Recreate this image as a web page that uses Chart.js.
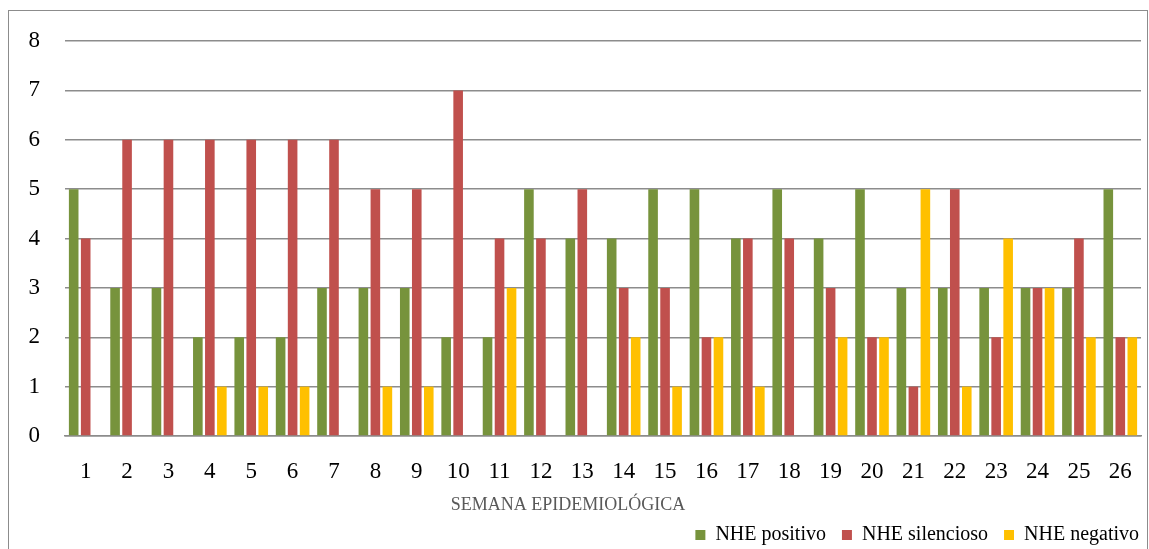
<!DOCTYPE html>
<html>
<head>
<meta charset="utf-8">
<script src="https://cdn.jsdelivr.net/npm/chart.js@4/dist/chart.umd.min.js"></script>
<style>
  html, body { margin: 0; padding: 0; background: #fff; }
  #wrap { position: relative; width: 1149px; height: 549px; overflow: hidden; }
  #frame { position: absolute; left: 8px; top: 10px; width: 1138px; height: 560px; border: 1.5px solid #8c8c8c; }
  canvas { position: absolute; left: 0; top: 0; }
</style>
</head>
<body>
<div id="wrap">
  <div id="frame"></div>
  <canvas id="chart" width="1149" height="549"></canvas>
</div>
<script>
const WEEKS = ['1','2','3','4','5','6','7','8','9','10','11','12','13','14','15','16','17','18','19','20','21','22','23','24','25','26'];
const POSITIVO   = [5,3,3,2,2,2,3,3,3,2,2,5,4,4,5,5,4,5,4,5,3,3,3,3,3,5];
const SILENCIOSO = [4,6,6,6,6,6,6,5,5,7,4,4,5,3,3,2,4,4,3,2,1,5,2,3,4,2];
const NEGATIVO   = [0,0,0,1,1,1,0,1,1,0,3,0,0,2,1,2,1,0,2,2,5,1,4,3,2,2];
const X_TITLE = 'SEMANA EPIDEMIOLÓGICA';

const SERIF = "'Liberation Serif', 'DejaVu Serif', serif";
Chart.defaults.font.family = SERIF;
Chart.defaults.color = '#000';

// axis title sits left of centre in the original, so draw it by hand
const xTitle = {
    id: 'xTitle',
    beforeDraw(chart) {
        // legend hugs the right frame edge in the original
        if (!chart.legend._shifted) {
            chart.legend.left += 14;
            chart.legend.right += 14;
            chart.legend._shifted = true;
        }
    },
    afterDraw(chart) {
        const ctx = chart.ctx;
        ctx.save();
        ctx.font = `18px ${SERIF}`;
        ctx.fillStyle = '#595959';
        ctx.textAlign = 'center';
        ctx.textBaseline = 'middle';
        ctx.fillText(X_TITLE, 568, 505);
        ctx.restore();
    }
};

new Chart(document.getElementById('chart'), {
    type: 'bar',
    data: {
        labels: WEEKS,
        datasets: [
            { label: 'NHE positivo', data: POSITIVO, backgroundColor: '#77933C' },
            { label: 'NHE silencioso', data: SILENCIOSO, backgroundColor: '#C0504D' },
            { label: 'NHE negativo', data: NEGATIVO, backgroundColor: '#FFC000' },
        ]
    },
    options: {
        responsive: false,
        animation: false,
        categoryPercentage: 0.87,
        barPercentage: 0.8,
        layout: { padding: { top: 41, right: 8, left: 0, bottom: -6 } },
        scales: {
            x: {
                grid: { display: false },
                border: { color: '#8c8c8c', width: 1.5 },
                ticks: { color: '#000', font: { size: 23 }, padding: 14, maxRotation: 0, autoSkip: false },
                afterFit(scale) { scale.height = 73; }
            },
            y: {
                min: 0,
                max: 8,
                grid: { color: '#8c8c8c', lineWidth: 1.5, drawTicks: false },
                border: { display: false },
                ticks: { stepSize: 1, color: '#000', font: { size: 23 }, padding: 25 },
                afterFit(scale) { scale.width = 65; }
            }
        },
        plugins: {
            legend: {
                position: 'bottom',
                align: 'end',
                labels: {
                    boxWidth: 10,
                    boxHeight: 10,
                    padding: 16,
                    color: '#000',
                    font: { size: 20 }
                }
            },
            tooltip: { enabled: false }
        }
    },
    plugins: [xTitle]
});
</script>
</body>
</html>
